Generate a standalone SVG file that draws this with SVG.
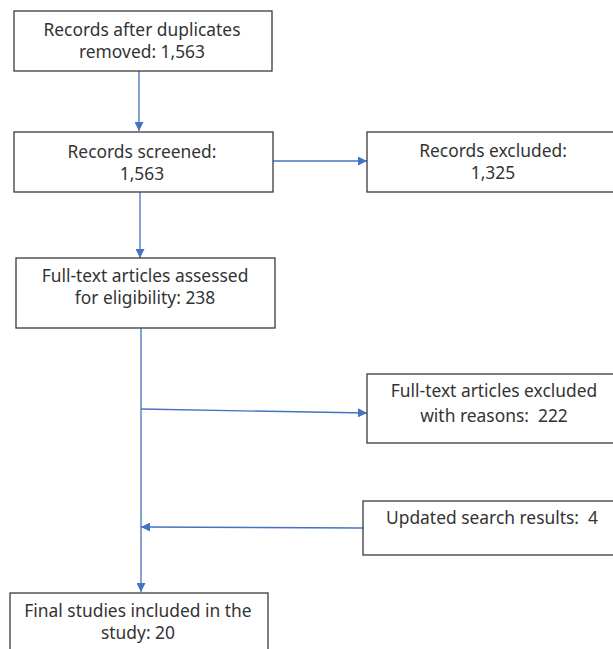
<svg xmlns="http://www.w3.org/2000/svg" width="613" height="649" viewBox="0 0 613 649">
<style>
.box{fill:#ffffff;stroke:#3a3a3a;stroke-width:1.3}
.t{font-family:"Noto Sans","Open Sans","Liberation Sans",sans-serif;font-size:17.4px;fill:#333333;text-anchor:middle}
.c{fill:none;stroke:#4472C4;stroke-width:1.3}
</style>
<defs>
<marker id="ah" viewBox="0 0 10 10" refX="10" refY="5" markerWidth="9" markerHeight="9" markerUnits="userSpaceOnUse" orient="auto">
<path d="M0,0 L10,5 L0,10 z" fill="#4472C4"/>
</marker>
</defs>
<rect width="613" height="649" fill="#ffffff"/>
<g id="connectors">
<line class="c" x1="139" y1="71" x2="139" y2="131" marker-end="url(#ah)"/>
<line class="c" x1="273" y1="161" x2="367" y2="161" marker-end="url(#ah)"/>
<line class="c" x1="140" y1="192" x2="140" y2="258" marker-end="url(#ah)"/>
<line class="c" x1="141" y1="328" x2="141" y2="592" marker-end="url(#ah)"/>
<line class="c" x1="141" y1="409" x2="367" y2="413" marker-end="url(#ah)"/>
<line class="c" x1="363" y1="528" x2="141" y2="527" marker-end="url(#ah)"/>
</g>
<g id="n1">
<rect class="box" x="14" y="11" width="258" height="60"/>
<text class="t" x="142" y="36">Records after duplicates</text>
<text class="t" x="142" y="58">removed: 1,563</text>
</g>
<g id="n2">
<rect class="box" x="14" y="132" width="259" height="60"/>
<text class="t" x="142" y="158">Records screened:</text>
<text class="t" x="142" y="180">1,563</text>
</g>
<g id="n3">
<rect class="box" x="367" y="132" width="260" height="60"/>
<text class="t" x="493" y="157">Records excluded:</text>
<text class="t" x="493" y="179">1,325</text>
</g>
<g id="n4">
<rect class="box" x="16" y="258" width="259" height="70"/>
<text class="t" x="145" y="282">Full-text articles assessed</text>
<text class="t" x="145" y="304">for eligibility: 238</text>
</g>
<g id="n5">
<rect class="box" x="367" y="374" width="260" height="69"/>
<text class="t" x="494" y="397">Full-text articles excluded</text>
<text class="t" x="494" y="422" xml:space="preserve">with reasons:  222</text>
</g>
<g id="n6">
<rect class="box" x="363" y="501" width="264" height="54"/>
<text class="t" x="492" y="524" xml:space="preserve">Updated search results:  4</text>
</g>
<g id="n7">
<rect class="box" x="10" y="593" width="258" height="70"/>
<text class="t" x="138" y="617">Final studies included in the</text>
<text class="t" x="138" y="639">study: 20</text>
</g>
</svg>
